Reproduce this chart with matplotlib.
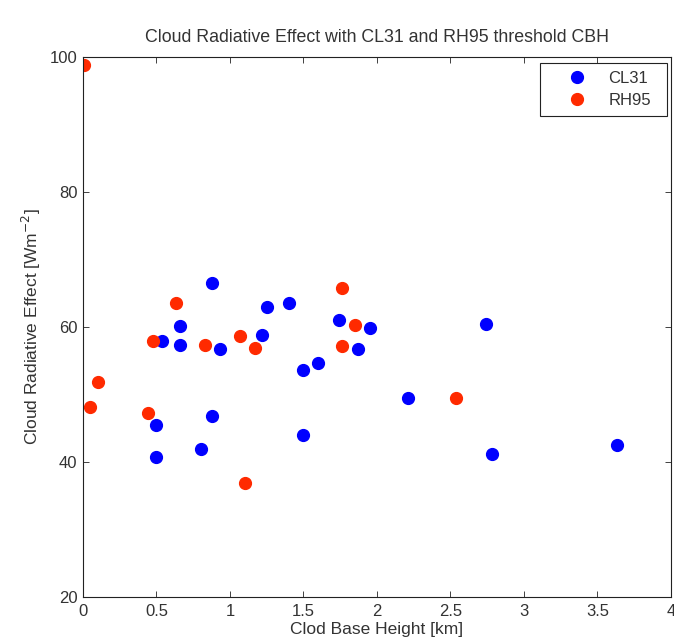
import matplotlib
matplotlib.use("Agg")
import matplotlib.pyplot as plt

plt.rcParams['font.family'] = ['Liberation Sans', 'DejaVu Sans']

# CL31 ceilometer cloud base height vs CRE
cl31_cbh = [0.54, 0.66, 0.66, 0.88, 0.93, 1.25, 1.22, 1.40, 0.88, 0.50, 0.50, 0.80,
            1.50, 1.50, 1.60, 1.74, 1.87, 1.95, 2.21, 2.74, 2.78, 3.63]
cl31_cre = [57.9, 60.1, 57.4, 66.5, 56.7, 63.0, 58.8, 63.6, 46.8, 45.5, 40.7, 41.9,
            44.0, 53.6, 54.7, 61.0, 56.7, 59.9, 49.5, 60.4, 41.2, 42.5]

# RH95 threshold cloud base height vs CRE
rh95_cbh = [0.007, 0.10, 0.05, 0.44, 0.48, 0.63, 0.83, 1.07, 1.17, 1.10, 1.76, 1.76, 1.85, 2.54]
rh95_cre = [98.8, 51.9, 48.1, 47.3, 57.9, 63.6, 57.3, 58.7, 56.9, 36.9, 65.8, 57.2, 60.3, 49.5]

fig = plt.figure(figsize=(6.74, 6.44), dpi=100)
ax = fig.add_axes([0.123, 0.073, 0.8725, 0.8385])

ax.plot(cl31_cbh, cl31_cre, 'o', color='#0000ff', markersize=8.5, label='CL31', linestyle='none')
ax.plot(rh95_cbh, rh95_cre, 'o', color='#ff2a00', markersize=8.5, label='RH95', linestyle='none')

ax.set_xlim(0, 4)
ax.set_ylim(20, 100)
ax.set_xticks([0, 0.5, 1, 1.5, 2, 2.5, 3, 3.5, 4])
ax.set_xticklabels(['0', '0.5', '1', '1.5', '2', '2.5', '3', '3.5', '4'])
ax.set_yticks([20, 40, 60, 80, 100])
ax.tick_params(direction='in', top=True, right=True, labelsize=12, length=4, width=0.6,
               colors='#222222', labelcolor='#333333')
ax.tick_params(axis='x', pad=5)
ax.tick_params(axis='y', pad=4)
for s in ax.spines.values():
    s.set_linewidth(0.8)
    s.set_color('#222222')

ax.set_title('Cloud Radiative Effect with CL31 and RH95 threshold CBH', fontsize=12.8,
             pad=11, color='#333333')
ax.set_xlabel('Clod Base Height [km]', fontsize=12.5, labelpad=2, color='#333333')
ax.set_ylabel('Cloud Radiative Effect [Wm$^{-2}$]', fontsize=12.5, labelpad=5, color='#333333')

# legend box stretched across the width it has in the original
leg = ax.legend(loc='upper left', bbox_to_anchor=(0.777, 0.4, 0.216, 0.589), mode='expand',
                numpoints=1, fontsize=12, fancybox=False, edgecolor='#222222', framealpha=1,
                borderaxespad=0, handlelength=3.5, handletextpad=0.1, borderpad=0.5,
                labelspacing=0.4)
leg.get_frame().set_linewidth(0.8)
for t in leg.get_texts():
    t.set_color('#333333')

fig.savefig('out.png', dpi=100)
